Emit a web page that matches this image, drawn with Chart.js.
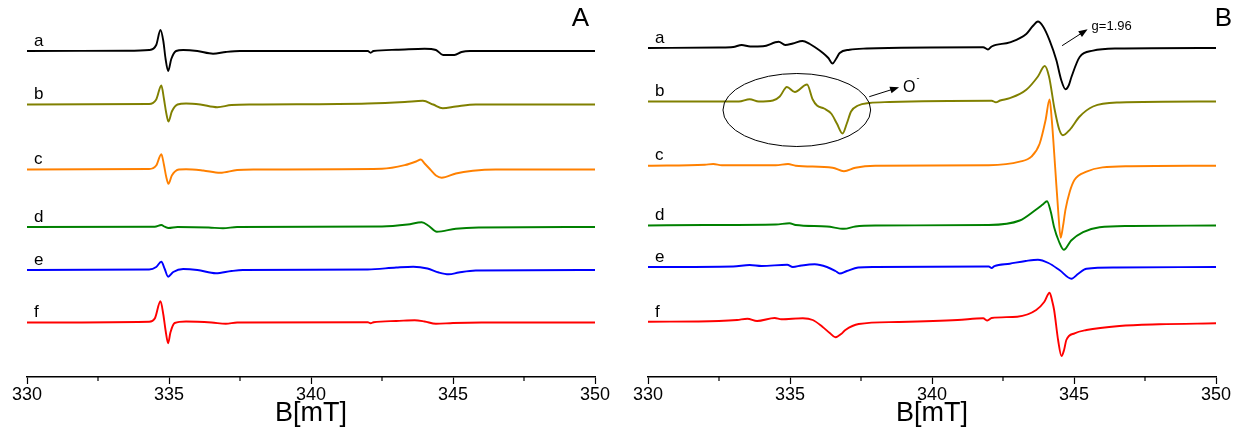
<!DOCTYPE html>
<html>
<head>
<meta charset="utf-8">
<script src="https://cdn.jsdelivr.net/npm/chart.js@4.4.1/dist/chart.umd.min.js"></script>
<style>
    body { margin: 0; background: #fff; overflow: hidden; }
    #wrap { position: relative; width: 1239px; height: 431px; }
    canvas { position: absolute; top: 0; }
    #panelA { left: 0; }
    #panelB { left: 621px; }
</style>
</head>
<body>
<div id="wrap">
    <canvas id="panelA" width="620" height="431"></canvas>
    <canvas id="panelB" width="620" height="431"></canvas>
</div>
<script>
//--------------------------------------------Data

const sampleLabels = ['a', 'b', 'c', 'd', 'e', 'f'];
const xTicks = [330, 335, 340, 345, 350];

// vertical stacking offset of each spectrum (same order as sampleLabels)
const offsetsA = [326, 272.5, 207.5, 150, 107, 54.5];
const offsetsB = [329, 275.5, 211.3, 151.5, 110, 55];

// panel A spectra: [B (mT), signal]
const specA_a = [[330,0],[333.5,0.3],[334.3,1],[334.55,6],[334.7,21],[334.8,10],[334.88,-8],[334.97,-20],[335.08,-8],[335.25,0],[335.5,1],[336.0,0],[336.55,-2.7],[337.0,-1],[337.5,0],[342.0,0],[342.1,-1.8],[342.2,0],[343.0,1.2],[344.0,2.3],[344.4,1],[344.65,-4],[345.05,-4],[345.3,-1],[345.6,0],[350,0]];
const specA_b = [[330,0],[334.3,0.5],[334.55,5],[334.73,19],[334.82,6],[334.9,-8],[334.98,-17],[335.1,-7],[335.3,0],[335.6,1],[336.1,0],[336.7,-2.7],[337.2,-0.5],[338,0],[342,1],[343.3,2.5],[343.94,3.7],[344.3,0],[344.64,-3.7],[345.1,-2],[345.8,0],[350,0]];
const specA_c = [[330,0],[334.3,0.5],[334.55,4],[334.73,15.3],[334.82,5],[334.9,-7],[334.98,-14.3],[335.1,-6],[335.35,0],[335.6,0.3],[336.2,-1],[336.8,-3.3],[337.4,-0.5],[338,0],[342.5,0.7],[343.3,4.3],[343.7,8],[343.87,10],[344.0,6],[344.2,0],[344.4,-6],[344.6,-8.3],[345.1,-4],[345.7,-1.3],[346.5,0],[350,0]];
const specA_d = [[330,0],[334.5,0.3],[334.73,2],[334.85,0.3],[334.98,-1],[335.3,0],[336.4,-0.5],[336.9,-1.3],[337.4,0],[342.5,0.5],[343.4,2.5],[343.9,4.7],[344.15,1],[344.43,-4.7],[345.1,-1.7],[345.9,-0.5],[350,0]];
const specA_e = [[330,0],[334.3,0.5],[334.55,3],[334.73,8.3],[334.85,1],[334.97,-6.7],[335.15,-2],[335.5,1],[336.0,0],[336.65,-3.3],[337.2,-1],[337.6,0],[342,0.5],[343,2.5],[343.6,3.3],[344.1,1.5],[344.5,-2.5],[344.85,-4.3],[345.2,-2.5],[345.8,-0.5],[350,0]];
const specA_f = [[330,0],[334.3,0.8],[334.5,4],[334.7,21.3],[334.8,8],[334.88,-8],[334.97,-20.7],[335.05,-10],[335.2,-0.5],[335.6,1],[336.5,0],[337.0,-1.3],[337.4,0],[342,0.3],[342.1,-0.8],[342.2,0.3],[343.0,1.5],[343.65,2.3],[344.0,1],[344.4,-1.3],[345,-0.5],[346,0],[350,0]];

// panel B spectra
const specB_a = [[330,0],[332.5,0.5],[333.0,1],[333.3,3],[333.6,1.5],[334.05,1.7],[334.6,6.3],[334.83,3],[335.1,4.5],[335.44,7],[335.7,4],[335.87,1],[336.16,-5],[336.35,-10],[336.5,-15.5],[336.62,-11],[336.75,-5],[337.1,-1.7],[337.7,-0.5],[341.8,0.8],[341.97,-1.5],[342.1,1.5],[342.74,5.7],[343.32,14],[343.55,22],[343.73,26.5],[343.9,22],[344.14,7.7],[344.38,-12.3],[344.55,-32],[344.7,-41.3],[344.82,-37],[344.91,-29],[345.2,-9],[345.67,-2.7],[346.5,-0.5],[350,0]];
const specB_b = [[330,0],[333.2,0],[333.58,2.3],[333.9,0],[334.4,1],[334.64,5],[334.89,14.5],[335.17,9.5],[335.6,17],[335.8,2],[335.95,-4],[336.2,-7],[336.45,-12],[336.65,-22],[336.85,-32],[337.0,-22],[337.15,-10],[337.4,-4],[337.8,-1.5],[338.5,-0.5],[342.1,0.8],[342.25,-0.8],[342.4,1],[342.74,3.3],[343.32,11.7],[343.73,25],[343.97,35.5],[344.12,25],[344.32,-8.3],[344.48,-28],[344.61,-33.7],[344.85,-28.3],[345.2,-15],[345.67,-5],[346.6,-1],[350,0]];
const specB_c = [[330,0],[332.0,1],[332.3,1.7],[332.6,0.5],[334.5,0.5],[334.93,1.7],[335.2,0],[336.5,-2],[336.9,-5.5],[337.3,-2],[338,0],[342,0.5],[343.09,4],[343.5,9],[343.79,22],[344.0,45.7],[344.14,66.3],[344.22,45],[344.34,-3],[344.45,-48],[344.53,-72],[344.61,-61],[344.7,-44],[344.85,-26],[345.02,-14],[345.44,-6],[346.0,-1.7],[347,-0.5],[350,0]];
const specB_d = [[330,0],[332,0.5],[334.5,1],[334.98,2.3],[335.2,0.5],[336.3,-1],[336.9,-3.3],[337.3,-1],[338,0],[342,0.5],[343.09,5],[343.62,15],[343.9,21],[344.05,24.3],[344.18,14],[344.3,-1.7],[344.47,-16],[344.64,-24.3],[344.9,-15],[345.32,-6.7],[345.9,-1.7],[347,-0.5],[350,0]];
const specB_e = [[330,0],[333.0,0.5],[333.58,2],[334.0,1],[334.9,2.3],[335.1,0],[335.4,1.5],[335.87,2.7],[336.3,0],[336.6,-4],[336.75,-6.5],[337.0,-4],[337.4,-0.5],[338,0],[342,0.5],[342.1,-1],[342.2,0.8],[342.74,3.3],[343.3,6],[343.73,7.3],[344.1,4],[344.5,-3.3],[344.91,-11.7],[345.15,-6.7],[345.44,-1.7],[346.5,-0.5],[350,0]];
const specB_f = [[330,0.3],[332.5,1],[333.14,2],[333.5,3.3],[333.84,1],[334.46,4],[334.7,2.7],[335.45,3.7],[335.8,2],[336.14,-4.7],[336.4,-11],[336.6,-15.3],[336.8,-12],[336.95,-8],[337.42,-2],[338.8,0],[340.9,2],[341.8,3.7],[341.95,1.5],[342.1,4],[343.0,5.3],[343.67,12],[343.95,20],[344.14,29.3],[344.24,20],[344.3,12],[344.44,-18],[344.56,-34],[344.65,-28],[344.73,-18],[345.02,-11.3],[345.44,-8],[346.6,-4],[348,-2.3],[350,-1.3]];

const spectraA = [specA_a, specA_b, specA_c, specA_d, specA_e, specA_f];
const spectraB = [specB_a, specB_b, specB_c, specB_d, specB_e, specB_f];

//--------------------------------------------Styles

const colors = ['#000000', '#808000', '#ff8000', '#008000', '#0000ff', '#ff0000'];
const FONT = "'Liberation Sans', Arial, sans-serif";

//--------------------------------------------Plugins

const minorTicks = {
    id: 'minorTicks',
    afterDraw(chart) {
        const s = chart.scales.x;
        const ctx = chart.ctx;
        ctx.save();
        ctx.strokeStyle = '#000';
        ctx.lineWidth = 1.2;
        s.ticks.forEach(t => {
            if (xTicks.includes(t.value)) return;
            const px = s.getPixelForValue(t.value);
            ctx.beginPath();
            ctx.moveTo(px, s.top);
            ctx.lineTo(px, s.top + 4);
            ctx.stroke();
        });
        ctx.restore();
    }
};

function arrow(ctx, x1, y1, x2, y2) {
    const ang = Math.atan2(y2 - y1, x2 - x1);
    ctx.beginPath();
    ctx.moveTo(x1, y1);
    ctx.lineTo(x2 - 6 * Math.cos(ang), y2 - 6 * Math.sin(ang));
    ctx.stroke();
    ctx.beginPath();
    ctx.moveTo(x2, y2);
    ctx.lineTo(x2 - 9 * Math.cos(ang) + 3.5 * Math.sin(ang), y2 - 9 * Math.sin(ang) - 3.5 * Math.cos(ang));
    ctx.lineTo(x2 - 9 * Math.cos(ang) - 3.5 * Math.sin(ang), y2 - 9 * Math.sin(ang) + 3.5 * Math.cos(ang));
    ctx.closePath();
    ctx.fill();
}

function notes(panel, offsets) {
    return {
        id: 'notes' + panel,
        afterDraw(chart) {
            const { ctx, scales: { x, y } } = chart;
            const px = v => x.getPixelForValue(v);
            const py = v => y.getPixelForValue(v);
            ctx.save();
            ctx.fillStyle = '#000';
            ctx.strokeStyle = '#000';
            // sample letters
            ctx.font = '17px ' + FONT;
            ctx.textBaseline = 'alphabetic';
            ctx.textAlign = 'left';
            sampleLabels.forEach((l, i) => ctx.fillText(l, px(330.25), py(offsets[i] + 5.5)));
            // panel letter
            ctx.font = '26px ' + FONT;
            ctx.textAlign = 'right';
            ctx.textBaseline = 'top';
            ctx.fillText(panel, chart.chartArea.right - 6 + (panel === 'B' ? 22 : 0), 6);
            if (panel === 'B') {
                ctx.lineWidth = 1;
                const cx = px(335.24), cy = py(267);
                ctx.beginPath();
                ctx.ellipse(cx, cy, px(335.24 + 2.6) - cx, py(267 - 36.5) - cy, 0, 0, Math.PI * 2);
                ctx.stroke();
                arrow(ctx, px(337.79), py(280.3), px(338.84), py(289.7));
                arrow(ctx, px(344.58), py(331.3), px(345.48), py(347.7));
                ctx.textAlign = 'left';
                ctx.textBaseline = 'middle';
                ctx.font = '16px ' + FONT;
                ctx.fillText('O', px(338.98), py(289.5));
                ctx.font = '9px ' + FONT;
                ctx.fillText('-', px(339.45), py(298));
                ctx.font = '13px ' + FONT;
                ctx.fillText('g=1.96', px(345.62), py(351));
            }
            ctx.restore();
        }
    };
}

//--------------------------------------------Charts

function makeConfig(spectra, offsets, panel) {
    return {
        type: 'line',
        data: {
            datasets: spectra.map((s, i) => ({
                label: sampleLabels[i],
                data: s.map(p => ({ x: p[0], y: offsets[i] + p[1] })),
                borderColor: colors[i],
                borderWidth: 1.9,
                pointRadius: 0,
                fill: false,
                cubicInterpolationMode: 'monotone',
            }))
        },
        options: {
            responsive: false,
            animation: false,
            layout: { padding: { left: 27, right: 25, top: 0, bottom: 0 } },
            plugins: {
                legend: { display: false },
                tooltip: { enabled: false },
                title: { display: false }
            },
            scales: {
                x: {
                    type: 'linear',
                    min: 330,
                    max: 350,
                    border: { display: true, color: '#000', width: 1.5 },
                    grid: {
                        drawOnChartArea: false,
                        tickLength: 7,
                        tickWidth: 1.2,
                        tickColor: c => xTicks.includes(c.tick.value) ? '#000' : 'rgba(0,0,0,0)'
                    },
                    ticks: {
                        stepSize: 2.5,
                        autoSkip: false,
                        maxRotation: 0,
                        padding: 0,
                        color: '#000',
                        font: { family: FONT, size: 18 },
                        callback: v => xTicks.includes(v) ? String(v) : ''
                    },
                    title: {
                        display: true,
                        text: 'B[mT]',
                        color: '#000',
                        font: { family: FONT, size: 27 },
                        padding: { top: 0, bottom: 1 }
                    },
                    afterFit: s => { s.height = 54; }
                },
                y: { display: false, min: 0, max: 377 }
            }
        },
        plugins: [minorTicks, notes(panel, offsets)]
    };
}

new Chart(document.getElementById('panelA'), makeConfig(spectraA, offsetsA, 'A'));
new Chart(document.getElementById('panelB'), makeConfig(spectraB, offsetsB, 'B'));
</script>
</body>
</html>
